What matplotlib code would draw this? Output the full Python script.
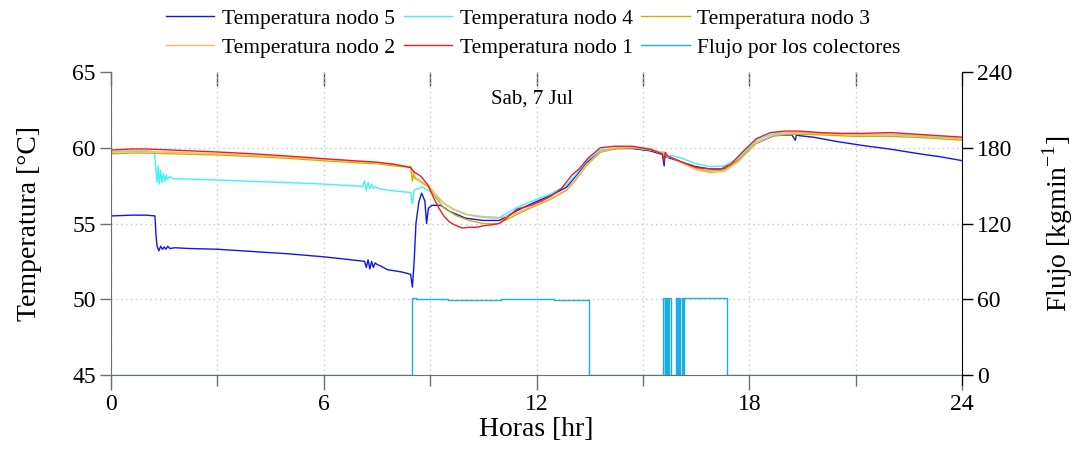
import matplotlib
matplotlib.use("Agg")
import matplotlib.pyplot as plt
from matplotlib.ticker import MultipleLocator

plt.rcParams['font.family'] = ['Liberation Serif', 'DejaVu Serif']
plt.rcParams['mathtext.fontset'] = 'custom'
plt.rcParams['mathtext.rm'] = 'Liberation Serif'

# ---------------- data ----------------
t_n5 = [0, 0.6, 1.0, 1.24, 1.27, 1.3, 1.35, 1.4, 1.45, 1.5, 1.55, 1.6, 1.66, 1.8, 2.2, 3.0,
        4.0, 5.0, 6.0, 6.6, 7.15, 7.2, 7.25, 7.3, 7.35, 7.4, 7.45, 7.5, 7.6, 7.8, 8.2, 8.45,
        8.5, 8.55, 8.6, 8.68, 8.76, 8.85, 8.9, 8.95, 9.05, 9.3, 9.55, 10.0, 10.5, 10.95,
        11.45, 11.9, 12.4, 12.85, 13.1, 13.4, 13.8, 14.25, 14.7, 15.2, 15.55, 15.6, 15.62,
        15.65, 16.1, 16.5, 16.9, 17.3, 17.7, 18.2, 18.7, 19.2, 19.3, 19.33, 19.4, 19.8,
        20.5, 21.2, 22.0, 22.8, 23.4, 24.0]
T_n5 = [55.5, 55.55, 55.55, 55.5, 54.2, 53.5, 53.2, 53.5, 53.3, 53.45, 53.3, 53.5, 53.35, 53.4, 53.35, 53.3,
        53.15, 53.0, 52.8, 52.65, 52.5, 52.1, 52.6, 52.0, 52.5, 52.1, 52.4, 52.3, 52.2, 51.95, 51.8, 51.65,
        50.8, 52.5, 55.0, 56.4, 57.0, 56.5, 55.0, 56.0, 56.2, 56.2, 55.8, 55.35, 55.2, 55.2,
        55.85, 56.35, 56.85, 57.4, 58.1, 59.0, 59.75, 59.95, 59.95, 59.8, 59.55, 58.8, 59.5,
        59.4, 59.05, 58.75, 58.6, 58.6, 59.2, 60.3, 60.8, 60.85, 60.5, 60.85, 60.8, 60.7,
        60.4, 60.15, 59.9, 59.6, 59.4, 59.15]

t_n4 = [0, 0.6, 1.0, 1.22, 1.25, 1.3, 1.33, 1.36, 1.4, 1.44, 1.48, 1.52, 1.56, 1.6, 1.65, 1.75,
        2.0, 3.0, 4.0, 5.0, 6.0, 7.1, 7.15, 7.2, 7.25, 7.3, 7.35, 7.4, 7.45, 7.55, 7.8, 8.2, 8.45,
        8.5, 8.55, 8.65, 8.8, 9.0, 9.3, 9.6, 10.0, 10.5, 10.95, 11.45, 11.9, 12.4, 12.85,
        13.1, 13.4, 13.8, 14.25, 14.7, 15.2, 15.6, 15.7, 15.8, 16.1, 16.5, 16.9, 17.3,
        17.7, 18.2, 18.7, 19.3, 20.0, 21.0, 22.0, 23.0, 24.0]
T_n4 = [59.75, 59.8, 59.8, 59.75, 59.0, 57.7, 58.8, 57.6, 58.5, 57.7, 58.3, 57.8, 58.2, 57.9, 58.1, 57.95,
        57.95, 57.87, 57.78, 57.7, 57.6, 57.45, 57.8, 57.2, 57.7, 57.3, 57.6, 57.3, 57.45, 57.3, 57.2, 57.1, 57.05,
        56.3, 57.2, 57.3, 57.4, 57.1, 56.5, 56.0, 55.6, 55.45, 55.4, 56.05, 56.5, 56.95, 57.55,
        58.2, 59.1, 59.85, 60.0, 60.0, 59.85, 59.7, 59.35, 59.5, 59.3, 58.95, 58.75, 58.8,
        59.35, 60.5, 60.95, 61.0, 60.95, 60.85, 60.85, 60.75, 60.6]

t_n3 = [0, 0.6, 1.0, 2.0, 3.0, 4.0, 5.0, 6.0, 7.0, 7.5, 8.0, 8.45, 8.5, 8.53, 8.56, 8.7,
        8.95, 9.1, 9.4, 9.75, 10.1, 10.5, 10.9, 11.2, 11.45, 11.9, 12.4, 12.85, 13.1, 13.4,
        13.8, 14.25, 14.7, 15.2, 15.6, 16.1, 16.5, 16.9, 17.3, 17.7, 18.2, 18.7, 19.3, 20.0,
        21.0, 22.0, 23.0, 24.0]
T_n3 = [59.6, 59.65, 59.65, 59.58, 59.52, 59.42, 59.3, 59.14, 59.0, 58.95, 58.8, 58.7, 57.8, 58.3, 58.0, 57.8,
        57.4, 56.9, 56.0, 55.5, 55.2, 55.0, 54.97, 55.3, 55.6, 56.1, 56.6, 57.2, 57.85, 58.8,
        59.7, 59.95, 60.0, 59.9, 59.55, 59.05, 58.65, 58.45, 58.55, 59.2, 60.35, 60.8, 60.9, 60.85,
        60.75, 60.75, 60.65, 60.5]

t_n2 = [0, 0.6, 1.0, 2.0, 3.0, 4.0, 5.0, 6.0, 7.0, 7.5, 8.0, 8.45, 8.6, 8.8,
        8.95, 9.1, 9.4, 9.75, 10.1, 10.5, 10.9, 11.2, 11.45, 11.9, 12.4, 12.85, 13.1, 13.4,
        13.8, 14.25, 14.7, 15.2, 15.6, 16.1, 16.5, 16.9, 17.3, 17.7, 18.2, 18.7, 19.3, 20.0,
        21.0, 22.0, 23.0, 24.0]
T_n2 = [59.7, 59.75, 59.75, 59.68, 59.6, 59.5, 59.38, 59.22, 59.08, 59.0, 58.88, 58.75, 58.0, 57.7,
        57.5, 57.1, 56.3, 55.85, 55.55, 55.4, 55.35, 55.5, 55.7, 56.15, 56.65, 57.25, 57.9, 58.85,
        59.75, 60.0, 60.05, 59.95, 59.6, 59.0, 58.55, 58.35, 58.45, 59.1, 60.3, 60.85, 61.0, 60.95,
        60.85, 60.9, 60.8, 60.6]

t_n1 = [0, 0.6, 1.0, 2.0, 3.0, 4.0, 5.0, 6.0, 7.0, 7.5, 8.0, 8.45, 8.55, 8.75, 8.95, 9.1,
        9.25, 9.4, 9.55, 9.7, 9.9, 10.1, 10.3, 10.5, 10.7, 10.95, 11.15, 11.45, 11.7, 11.9,
        12.15, 12.4, 12.7, 13.0, 13.2, 13.45, 13.8, 14.2, 14.7, 15.2, 15.55, 15.6, 15.63,
        15.7, 16.1, 16.5, 16.9, 17.2, 17.5, 17.8, 18.2, 18.6, 19.0, 19.4, 20.0, 20.6, 21.2,
        22.0, 23.0, 24.0]
T_n1 = [59.85, 59.92, 59.92, 59.82, 59.72, 59.6, 59.45, 59.28, 59.12, 59.05, 58.9, 58.7, 58.4, 58.1, 57.5, 56.7,
        56.0, 55.45, 55.1, 54.9, 54.7, 54.75, 54.75, 54.85, 54.9, 55.0, 55.35, 55.95, 56.1, 56.25,
        56.5, 56.8, 57.3, 58.2, 58.6, 59.3, 60.0, 60.1, 60.1, 59.9, 59.6, 59.1, 59.7,
        59.45, 59.05, 58.7, 58.6, 58.6, 58.95, 59.7, 60.6, 61.0, 61.1, 61.1, 61.0, 60.95, 60.95,
        61.0, 60.85, 60.7]

t_flujo = [0, 8.50, 8.60, 9.5, 11.0, 12.5, 13.47, 15.58, 15.61, 15.63, 15.66, 15.68, 15.71,
           15.73, 15.78, 15.93, 15.95, 15.98, 16.0, 16.03, 16.06, 16.09, 16.12, 16.15, 16.19,
           16.6, 17.38, 24.0]
Q_flujo = [0, 60.6, 60.0, 59.8, 59.9, 59.7, 0, 61, 0, 61, 0, 61, 0,
           61, 0, 61, 0, 61, 0, 61, 0, 61, 0, 61, 60.8,
           60.6, 0, 0]

x_ticks = [0, 6, 12, 18, 24]
y_ticks_T = [45, 50, 55, 60, 65]
y_grid_T = [50, 55, 60]
y_ticks_Q = [0, 60, 120, 180, 240]

series = [
    (t_n5, T_n5, 'Temperatura nodo 5', '#1414F0'),
    (t_n4, T_n4, 'Temperatura nodo 4', '#40F2F2'),
    (t_n3, T_n3, 'Temperatura nodo 3', '#CDB100'),
    (t_n2, T_n2, 'Temperatura nodo 2', '#FFB55E'),
    (t_n1, T_n1, 'Temperatura nodo 1', '#EE1C24'),
]

GRID = dict(color='#c8c8c8', ls=(0, (1, 2.5)), lw=1.0)

# ---------------- figure ----------------
fig = plt.figure(figsize=(10.73, 4.51), dpi=100)
ax = fig.add_axes([111/1073, 1-375/451, (962-111)/1073, (375-72)/451])
ax2 = ax.twinx()

ax.set_xlim(0, 24)
ax.set_ylim(45, 65)
ax2.set_ylim(0, 240)
ax.set_xticks(x_ticks)
ax.xaxis.set_minor_locator(MultipleLocator(3))
ax.set_yticks(y_ticks_T)
ax2.set_yticks(y_ticks_Q)

ax.grid(True, which='both', axis='x', **GRID)
for yg in y_grid_T:
    ax.axhline(yg, zorder=0.5, **GRID)

handles = []
for t, T, lab, c in series:
    h, = ax.plot(t, T, color=c, lw=1.0, label=lab)
    handles.append(h)
hq, = ax2.plot(t_flujo, Q_flujo, color='#1AAFE0', lw=1.0, drawstyle='steps-post',
               label='Flujo por los colectores')
handles.append(hq)

ax.spines['top'].set_visible(False)
ax2.spines['top'].set_visible(False)
ax2.spines['left'].set_visible(False)
ax2.spines['bottom'].set_visible(False)
ax.spines['left'].set_color('#6e6e6e')
ax.spines['bottom'].set_color('#6e6e6e')
ax.spines['right'].set_visible(False)
ax2.spines['right'].set_color('black')
ax.spines['left'].set_bounds(44.35, 65)
ax2.spines['right'].set_bounds(-7.8, 240)

ax.tick_params(axis='y', which='major', direction='out', length=8, width=1, color='#6e6e6e',
               labelsize=17, pad=3)
ax.tick_params(axis='x', which='major', direction='out', length=11, width=1, color='#6e6e6e',
               labelsize=17, pad=3)
ax.tick_params(axis='x', which='minor', direction='out', length=8, width=1, color='#6e6e6e')
ax2.tick_params(axis='y', direction='out', length=8, width=1, color='black', labelsize=17, pad=3)

# inward ticks on the top edge (no spine)
top = ax.secondary_xaxis('top')
top.set_xticks(x_ticks)
top.xaxis.set_minor_locator(MultipleLocator(3))
top.tick_params(which='both', direction='in', length=10, width=1, color='#555555',
                labeltop=False)
top.spines['top'].set_visible(False)

ax.set_xlabel('Horas [hr]', fontsize=20, labelpad=1)
ax.set_ylabel('Temperatura [°C]', fontsize=20, labelpad=22)
ax2.set_ylabel('Flujo [kgmin$^{-1}$]', fontsize=20, labelpad=20)

ax.text(0.495, 0.91, 'Sab, 7 Jul', transform=ax.transAxes, ha='center', va='center', fontsize=15)

order = [0, 3, 1, 4, 2, 5]
fig.legend(handles=[handles[i] for i in order], loc='upper center',
           bbox_to_anchor=(0.497, 1.0), ncol=3,
           frameon=False, fontsize=15.5, handlelength=2.25, handletextpad=0.35,
           columnspacing=0.4, labelspacing=0.42, borderaxespad=0)

fig.savefig('out.png', dpi=100)
